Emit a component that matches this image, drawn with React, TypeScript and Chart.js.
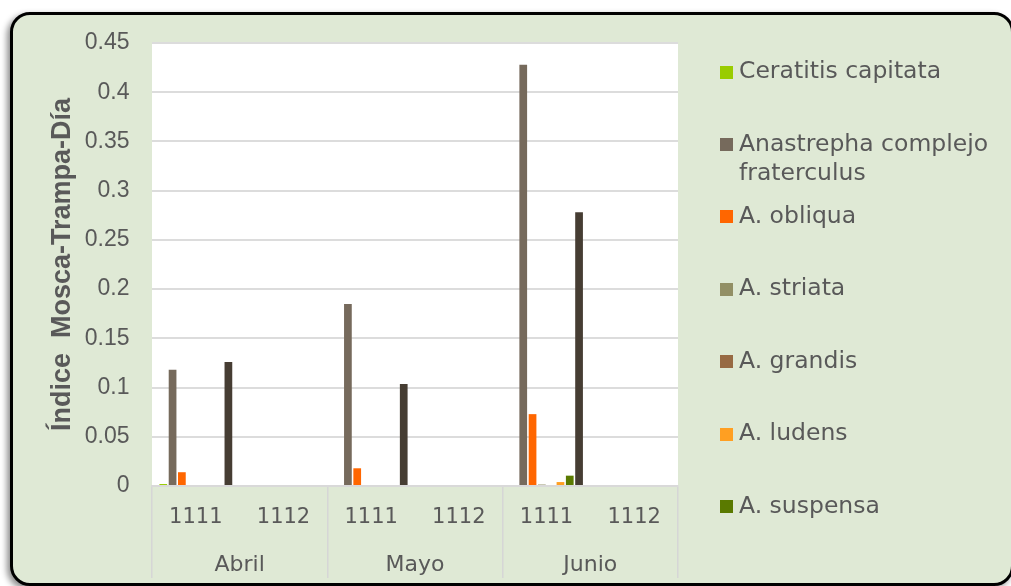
import React, { useEffect, useRef } from 'react';
import { Chart, registerables } from 'chart.js';

Chart.register(...registerables);

// ---- data ----
const categories = ['1111', '1112', '1111', '1112', '1111', '1112'];
const months = ['Abril', 'Mayo', 'Junio'];

const seriesNames = [
  'Ceratitis capitata',
  'Anastrepha complejo fraterculus',
  'A. obliqua',
  'A. striata',
  'A. grandis',
  'A. ludens',
  'A. suspensa',
  'A. serpentina',
];

const ceratitisCapitata = [0.002, 0.001, 0, 0.001, 0, 0];
const complejoFraterculus = [0.118, 0, 0.185, 0, 0.428, 0];
const aObliqua = [0.014, 0, 0.018, 0, 0.073, 0];
const aStriata = [0, 0, 0, 0, 0.0015, 0];
const aGrandis = [0.001, 0, 0, 0, 0, 0];
const aLudens = [0, 0, 0, 0, 0.004, 0];
const aSuspensa = [0, 0, 0, 0, 0.0105, 0];
const aSerpentina = [0.126, 0, 0.1035, 0, 0.278, 0];

const seriesValues = [
  ceratitisCapitata,
  complejoFraterculus,
  aObliqua,
  aStriata,
  aGrandis,
  aLudens,
  aSuspensa,
  aSerpentina,
];

const seriesColors = [
  '#99CC00',
  '#766A5C',
  '#FF6600',
  '#928F65',
  '#976A43',
  '#FF9F22',
  '#5A7A00',
  '#463D33',
];

const legendCount = 7; // the reference legend shows the first seven series
const yMin = 0;
const yMax = 0.45;
const yStep = 0.05;
const yTitle = 'Índice  Mosca-Trampa-Día';

const TEXT = '#595959';
const GRID = '#DCDCDC';

const plotBackground = {
  id: 'plotBackground',
  beforeDraw(chart: any) {
    const { ctx, chartArea: a } = chart;
    ctx.save();
    ctx.fillStyle = '#FFFFFF';
    ctx.fillRect(a.left, a.top, a.right - a.left, a.bottom - a.top);
    ctx.restore();
  },
};

function wrapText(ctx: CanvasRenderingContext2D, text: string, maxWidth: number) {
  const words = text.split(' ');
  const lines: string[] = [];
  let cur = '';
  for (const w of words) {
    const test = cur ? cur + ' ' + w : w;
    if (cur && ctx.measureText(test).width > maxWidth) {
      lines.push(cur);
      cur = w;
    } else {
      cur = test;
    }
  }
  if (cur) lines.push(cur);
  return lines;
}

const sideLegend = {
  id: 'sideLegend',
  afterDraw(chart: any) {
    const { ctx, chartArea } = chart;
    const x0 = chartArea.right + 42;
    const y0 = chartArea.top + 29;
    const step = 72.4;
    const box = 13;
    const textX = x0 + 19;
    ctx.save();
    ctx.font = '23.5px "DejaVu Sans"';
    ctx.textBaseline = 'middle';
    ctx.textAlign = 'left';
    chart.data.datasets.slice(0, legendCount).forEach((ds: any, i: number) => {
      const cy = y0 + i * step;
      ctx.fillStyle = ds.backgroundColor;
      ctx.fillRect(x0, Math.round(cy - box / 2), box, box);
      ctx.fillStyle = TEXT;
      const lines = wrapText(ctx, ds.label, chart.width - textX - 4);
      lines.forEach((ln: string, j: number) => ctx.fillText(ln, textX, cy + j * 29));
    });
    ctx.restore();
  },
};

export default function App() {
  const canvasRef = useRef<HTMLCanvasElement | null>(null);

  useEffect(() => {
    const canvas = canvasRef.current;
    if (!canvas) return;
    const chart = new Chart(canvas, {
      type: 'bar',
      data: {
        labels: categories,
        datasets: seriesValues.map((vals, i) => ({
          label: seriesNames[i],
          data: vals,
          backgroundColor: seriesColors[i],
          borderWidth: 0,
          categoryPercentage: 0.849,
          barPercentage: 0.83,
          xAxisID: 'x',
        })),
      },
      options: {
        responsive: false,
        animation: false,
        devicePixelRatio: 1,
        layout: { padding: { left: 46, top: 43, right: 333, bottom: 0 } },
        plugins: {
          legend: { display: false },
          tooltip: { enabled: false },
        },
        scales: {
          x: {
            type: 'category',
            position: 'bottom',
            afterFit: (s: any) => {
              s.height = 56;
            },
            grid: {
              display: true,
              offset: true,
              drawOnChartArea: false,
              drawTicks: true,
              tickLength: 92,
              lineWidth: 1.5,
              color: (c: any) =>
                c.index === undefined || c.index % 2 === 0 ? '#D6D6D6' : 'rgba(0,0,0,0)',
            },
            border: { display: true, color: '#D9D9D9', width: 2 },
            ticks: {
              autoSkip: false,
              maxRotation: 0,
              padding: -73,
              color: TEXT,
              font: { family: '"DejaVu Sans"', size: 21 },
            },
          },
          x2: {
            type: 'category',
            labels: months,
            position: 'bottom',
            offset: true,
            afterFit: (s: any) => {
              s.height = 44;
            },
            grid: { display: false, drawTicks: false },
            border: { display: false },
            ticks: {
              autoSkip: false,
              maxRotation: 0,
              padding: 10,
              color: TEXT,
              font: { family: '"DejaVu Sans"', size: 22 },
            },
          },
          y: {
            min: yMin,
            max: yMax,
            afterFit: (s: any) => {
              s.width = 106;
            },
            grid: { color: GRID, lineWidth: 2, drawTicks: false },
            border: { display: false },
            ticks: {
              stepSize: yStep,
              padding: 22.5,
              color: TEXT,
              font: { family: '"Liberation Sans"', size: 23 },
              callback: (v: any) => String(Number(Number(v).toFixed(2))),
            },
            title: {
              display: true,
              text: yTitle,
              color: TEXT,
              padding: { top: 0, bottom: 0 },
              font: { family: '"Liberation Sans"', size: 27, weight: 'bold' },
            },
          },
        },
      },
      plugins: [plotBackground, sideLegend],
    } as any);
    return () => chart.destroy();
  }, []);

  return (
    <div
      style={{
        position: 'fixed',
        left: 0,
        top: 0,
        width: 1011,
        height: 586,
        overflow: 'hidden',
        background: '#FFFFFF',
      }}
    >
      <div
        style={{
          position: 'absolute',
          left: 10,
          top: 12,
          width: 1004,
          height: 574,
          boxSizing: 'border-box',
          border: '3px solid #000',
          borderRadius: 20,
          background: '#DFE9D5',
          boxShadow: '-3px 3px 6px rgba(0,0,0,0.45)',
        }}
      />
      <canvas
        ref={canvasRef}
        width={1011}
        height={586}
        style={{ position: 'absolute', left: 0, top: 0, width: 1011, height: 586 }}
      />
    </div>
  );
}
